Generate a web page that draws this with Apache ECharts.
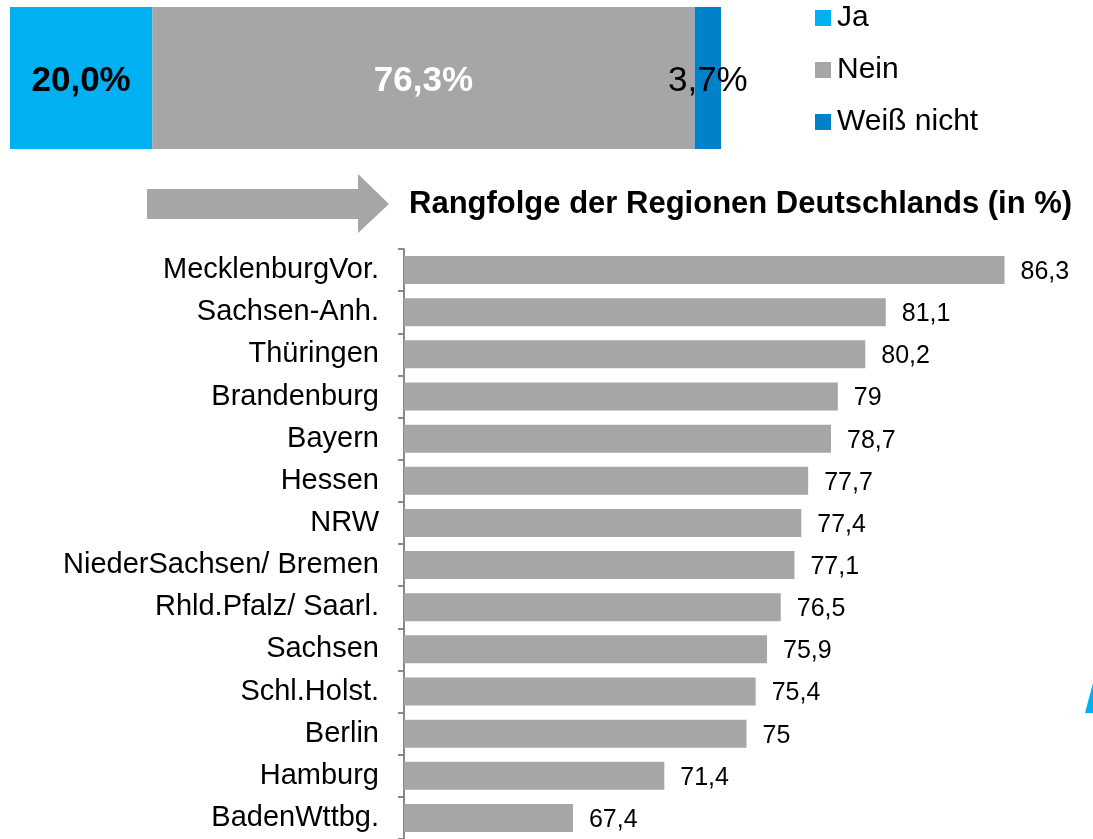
<!DOCTYPE html>
<html>
<head>
<meta charset="utf-8">
<script src="https://cdn.jsdelivr.net/npm/echarts@6/dist/echarts.min.js"></script>
<style>
html,body{margin:0;padding:0;background:#fff;}
#chart{width:1093px;height:839px;}
</style>
</head>
<body>
<div id="chart"></div>
<script>
// Anteile oben (gestapelter Balken)
var answerNames = ['Ja', 'Nein', 'Weiß nicht'];
var answerValues = [20.0, 76.3, 3.7];
var answerColors = ['#00b0f0', '#a6a6a6', '#0082ca'];

// Rangfolge der Regionen
var regions = ['MecklenburgVor.', 'Sachsen-Anh.', 'Thüringen', 'Brandenburg', 'Bayern', 'Hessen', 'NRW',
  'NiederSachsen/ Bremen', 'Rhld.Pfalz/ Saarl.', 'Sachsen', 'Schl.Holst.', 'Berlin', 'Hamburg', 'BadenWttbg.'];
var regionValues = [86.3, 81.1, 80.2, 79, 78.7, 77.7, 77.4, 77.1, 76.5, 75.9, 75.4, 75, 71.4, 67.4];

var FONT = 'Liberation Sans, Arial, sans-serif';

function deNum(v) {
  return String(v).replace('.', ',');
}

var chart = echarts.init(document.getElementById('chart'));

var topLabels = [
  {color: '#000', fontWeight: 'bold'},
  {color: '#fff', fontWeight: 'bold'},
  {color: '#000', fontWeight: 'normal'}
];

var series = [];
for (var i = 0; i < answerNames.length; i++) {
  series.push({
    name: answerNames[i],
    type: 'bar',
    stack: 'top',
    xAxisIndex: 0,
    yAxisIndex: 0,
    barWidth: 142,
    itemStyle: {color: answerColors[i]},
    label: {
      show: true,
      position: 'inside',
      offset: [0, 3],
      fontFamily: FONT,
      fontSize: 35,
      color: topLabels[i].color,
      fontWeight: topLabels[i].fontWeight,
      formatter: function (p) { return p.value.toFixed(1).replace('.', ',') + '%'; }
    },
    data: [answerValues[i]]
  });
}

series.push({
  name: 'Regionen',
  type: 'bar',
  xAxisIndex: 1,
  yAxisIndex: 1,
  barWidth: 28,
  itemStyle: {color: '#a6a6a6'},
  label: {
    show: true,
    position: 'right',
    distance: 16,
    offset: [0, 2],
    fontFamily: FONT,
    fontSize: 25,
    color: '#000',
    formatter: function (p) { return deNum(p.value); }
  },
  data: regionValues
});

var option = {
  animation: false,
  backgroundColor: '#fff',
  textStyle: {fontFamily: FONT},
  title: {
    text: 'Rangfolge der Regionen Deutschlands (in %)',
    left: 409,
    top: 189,
    padding: 0,
    textStyle: {fontFamily: FONT, fontSize: 31, fontWeight: 'bold', color: '#000'}
  },
  legend: {
    data: answerNames,
    orient: 'vertical',
    left: 815,
    top: 2,
    padding: 0,
    itemWidth: 16,
    itemHeight: 16,
    itemGap: 20,
    icon: 'rect',
    textStyle: {fontFamily: FONT, fontSize: 30, color: '#000', lineHeight: 32, padding: [0, 0, 0, 1]}
  },
  grid: [
    {left: 10, top: 7, width: 711, height: 142},
    {left: 404, top: 249, width: 685, height: 591}
  ],
  xAxis: [
    {gridIndex: 0, type: 'value', min: 0, max: 100, show: false},
    {gridIndex: 1, type: 'value', min: 60, max: 90, show: false}
  ],
  yAxis: [
    {gridIndex: 0, type: 'category', data: [''], show: false},
    {
      gridIndex: 1,
      type: 'category',
      inverse: true,
      data: regions,
      axisLine: {show: true, lineStyle: {color: '#898989', width: 2}},
      axisTick: {show: true, length: 6, lineStyle: {color: '#898989', width: 2}},
      axisLabel: {fontFamily: FONT, fontSize: 29, color: '#000', margin: 25}
    }
  ],
  graphic: [
    {
      type: 'polygon',
      shape: {points: [[147, 189], [358, 189], [358, 174], [389, 204], [358, 233], [358, 219], [147, 219]]},
      style: {fill: '#a6a6a6'}
    },
    {
      type: 'polygon',
      shape: {points: [[1085, 713], [1093, 683], [1093, 713]]},
      style: {fill: '#00b0f0'}
    }
  ],
  series: series
};

chart.setOption(option);
</script>
</body>
</html>
